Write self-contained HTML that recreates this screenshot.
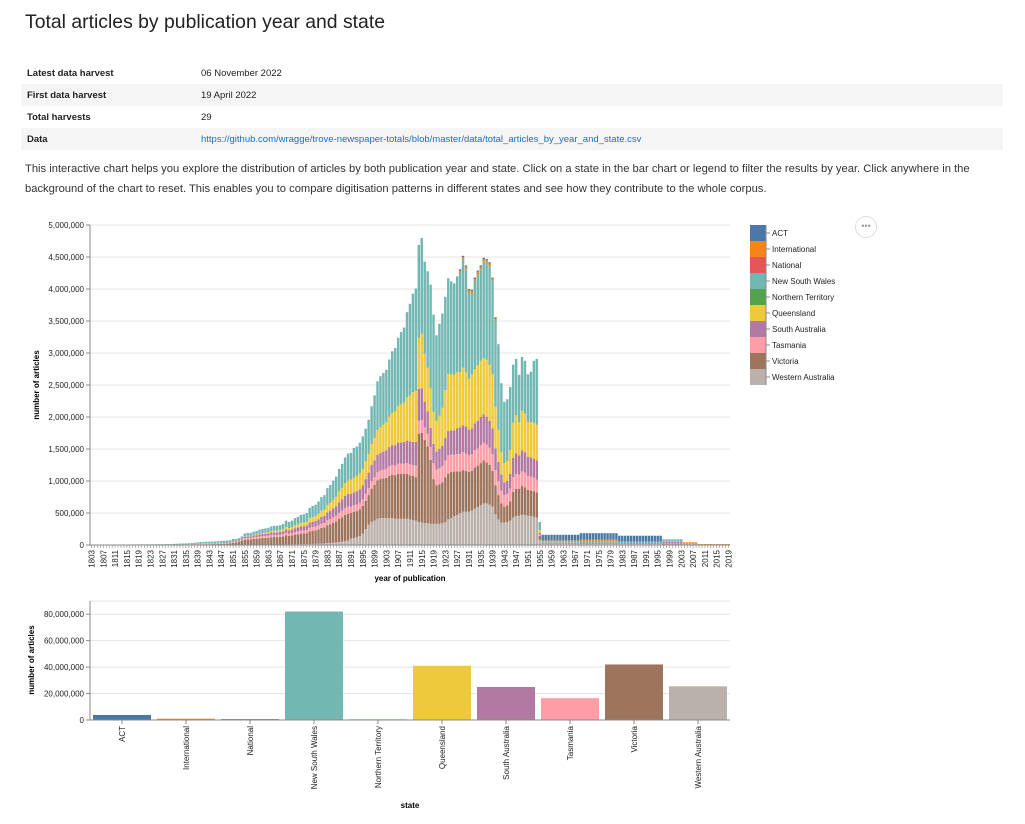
<!DOCTYPE html>
<html><head><meta charset="utf-8"><style>
body{margin:0;width:1025px;height:824px;background:#fff;font-family:"Liberation Sans",sans-serif;color:#222;overflow:hidden;position:relative}
h1{position:absolute;left:25px;top:11px;margin:0;font-weight:normal;font-size:19.4px;color:#222}
table{position:absolute;left:21px;top:62px;width:982px;border-collapse:collapse;font-size:9.5px}
td{height:22px;padding:0 6px}
tr:nth-child(even){background:#f5f5f5}
td.k{font-weight:bold;width:162px}
a{color:#1a6fc4;text-decoration:none}
p{position:absolute;left:25px;top:160px;width:970px;margin:0;font-size:11.2px;line-height:19.5px;color:#333}
svg{position:absolute;left:0;top:0}
svg text{font-family:"Liberation Sans",sans-serif}
</style></head><body>
<h1>Total articles by publication year and state</h1>
<table>
<tr><td class="k">Latest data harvest</td><td>06 November 2022</td></tr>
<tr><td class="k">First data harvest</td><td>19 April 2022</td></tr>
<tr><td class="k">Total harvests</td><td>29</td></tr>
<tr><td class="k">Data</td><td><a>https://github.com/wragge/trove-newspaper-totals/blob/master/data/total_articles_by_year_and_state.csv</a></td></tr>
</table>
<p>This interactive chart helps you explore the distribution of articles by both publication year and state. Click on a state in the bar chart or legend to filter the results by year. Click anywhere in the background of the chart to reset. This enables you to compare digitisation patterns in different states and see how they contribute to the whole corpus.</p>
<svg id="chart" width="1025" height="824"></svg>
<script>
const firstYear = 1803;
const yearCount = 217;
// values in thousands of articles, one per year 1803..2019
const wa = [0,0,0,0,0,0,0,0,0,0, 0,0,0,0,0,0,0,0,0,0, 0,0,0,0,0,0,0,0,
0,0,2,2,2,2,2,2,2,2,2,2,2,2,2,2,3,3,3,3,3,3,3,3,
3,3,3,4,4,5,5,6,6,7,7,7,8,8,9,9,10,11,12,13,13,14,16,17,18,20,22,24,28,30,34,38,45,52,60,70,
100,110,120,140,180,250,320,360,380,410, 420,420,420,420,420,410,410,410,410,410, 400,390,380,360,350,340,340,330,330,330, 330,340,360,400,420,450,470,500,520,520, 520,540,570,590,620,650,650,630,600,480, 400,350,350,360,380,430,450,460,470,470, 460,450,440,430,80,
0,0,0,0,0,0,0,0,0,0, 0,0,0,0,0,0,0,0,0,0, 0,0,0,0,0,0,0,0,0,0, 0,0,0,0,0,0,0,0,0,0, 0,
10,10,10,10,10,10,10, 15,15,15,15,15, 0,0,0,0,0,0,0,0,0,0,0];
const vic = [0,0,0,0,0,0,0,0,0,0, 0,0,0,0,0,0,0,0,0,0, 0,0,0,0,0,0,0,0,
0,0,0,0,0,0,0,2,4,6,8,10,10,12,12,14,15,17,18,20,30,35,45,60,
80,85,84,92,95,100,104,106,108,115,118,116,118,124,140,132,138,150,156,165,168,172,198,205,210,225,245,252,282,296,315,330,362,382,408,420,
400,410,410,420,430,440,460,520,560,600, 610,620,630,660,680,680,700,700,700,700, 690,690,680,1380,1400,1300,1200,1000,700,600, 620,640,700,720,720,700,680,650,650,640, 620,620,640,650,660,670,640,620,560,450, 380,300,250,260,300,400,430,420,450,430, 400,400,400,390,60,
10,10,10,10,10,10,10,10,10,10,10,10,10, 10,10,10,10,10,10,10,10,10,10,10,10,10, 10,10,10,10,10,10,10,10,10,10,10,10,10,10,10,
15,15,15,15,15,15,15, 0,0,0,0,0,0,0,0,0,0,0,0,0,0,0,0];
const tas = [0,0,0,0,0,0,0,0,0,0, 0,0,0,3,3,3,3,3,3,3, 3,3,3,3,3,3,3,3,
6,6,7,7,8,8,9,9,10,10,10,10,10,10,10,11,11,11,11,12,14,14,15,18,
22,23,22,24,25,27,28,29,30,32,32,32,33,35,40,37,39,42,44,46,46,48,54,56,57,61,66,68,76,79,84,88,96,101,107,110,
100,100,100,100,100,110,110,120,120,130, 130,140,140,150,150,150,160,160,160,170, 170,170,180,200,200,200,200,200,250,250, 250,250,260,280,270,260,270,270,280,270, 260,260,270,270,280,280,280,270,260,240, 220,200,180,180,200,230,230,220,230,230, 220,220,210,200,20,
5,5,5,5,5,5,5,5,5,5,5,5,5, 5,5,5,5,5,5,5,5,5,5,5,5,5, 5,5,5,5,5,5,5,5,5,5,5,5,5,5,5,
5,5,5,5,5,5,5, 0,0,0,0,0,0,0,0,0,0,0,0,0,0,0,0];
const sa = [0,0,0,0,0,0,0,0,0,0, 0,0,0,0,0,0,0,0,0,0, 0,0,0,0,0,0,0,0,
0,0,0,0,0,1,2,3,4,5,6,6,6,6,7,7,8,8,9,10,12,12,15,18,
25,26,27,30,31,34,35,37,38,41,42,42,44,47,54,51,54,60,62,66,68,71,82,86,89,96,106,110,124,131,141,149,166,177,191,200,
200,200,210,210,220,230,240,250,260,270, 280,280,290,300,310,320,330,330,340,350, 360,360,370,500,500,400,350,300,300,280, 300,320,350,380,380,380,400,420,420,420, 400,400,420,430,440,440,430,420,400,340, 300,250,200,200,230,300,320,300,330,320, 300,300,300,300,30,
15,15,15,15,15,15,15,15,15,15,15,15,15, 15,15,15,15,15,15,15,15,15,15,15,15,15, 15,15,15,15,15,15,15,15,15,15,15,15,15,15,15,
20,20,20,20,20,20,20, 0,0,0,0,0,0,0,0,0,0,0,0,0,0,0,0];
const qld = [0,0,0,0,0,0,0,0,0,0, 0,0,0,0,0,0,0,0,0,0, 0,0,0,0,0,0,0,0,
0,0,0,0,0,0,0,0,0,0,0,0,0,0,0,0,0,0,0,0,0,0,0,0,
5,6,7,8,10,14,16,18,20,23,25,26,28,31,37,36,39,44,47,52,54,57,68,73,77,85,96,101,117,126,138,149,170,184,202,210,
220,230,240,250,260,280,300,330,360,390, 400,420,440,480,510,530,580,600,620,680, 720,780,800,800,850,750,680,620,500,480, 520,600,750,900,880,870,880,870,900,850, 800,850,850,870,880,880,900,880,850,650, 500,350,300,320,380,550,600,520,620,600, 550,550,560,560,40,
5,5,5,5,5,5,5,5,5,5,5,5,5, 0,0,0,0,0,0,0,0,0,0,0,0,0, 0,0,0,0,0,0,0,0,0,0,0,0,0,0,0,
0,0,0,0,0,0,0, 0,0,0,0,0,0,0,0,0,0,0,0,0,0,0,0];
const nt = [0,0,0,0,0,0,0,0,0,0, 0,0,0,0,0,0,0,0,0,0, 0,0,0,0,0,0,0,0,
0,0,0,0,0,0,0,0,0,0,0,0,0,0,0,0,0,0,0,0,0,0,0,0,
0,0,0,0,0,0,0,0,0,0,0,0,0,0,0,0,0,0,0,0,0,0,0,0,0,0,0,0,8,8,8,8,8,8,8,8,
8,8,8,8,8,8,8,8,8,8, 8,8,8,8,8,8,8,8,8,8, 8,8,8,8,8,8,8,8,8,8, 8,8,8,8,8,8,8,8,8,8, 8,8,8,8,8,8,8,8,8,8, 8,8,8,8,8,8,8,8,8,8, 8,8,8,8,0,
0,0,0,0,0,0,0,0,0,0,0,0,0, 0,0,0,0,0,0,0,0,0,0,0,0,0, 0,0,0,0,0,0,0,0,0,0,0,0,0,0,0,
0,0,0,0,0,0,0, 0,0,0,0,0,0,0,0,0,0,0,0,0,0,0,0];
const nsw = [4,4,5,5,5,4,4,5,5,5, 5,6,6,6,6,6,7,7,7,8, 8,8,9,9,10,10,11,11,
12,13,14,15,16,17,18,20,22,24,24,25,25,25,26,27,27,28,28,30,35,30,28,35,
45,47,47,52,55,60,62,64,68,72,76,77,79,85,100,95,100,113,119,128,131,138,162,173,179,193,215,225,253,268,288,306,341,364,392,410,
410,460,450,470,500,500,520,580,650,750, 790,800,810,880,950,980,1050,1120,1160,1320, 1420,1530,1590,1440,1490,1430,1500,1610,1510,1330, 1430,1460,1450,1480,1440,1420,1490,1540,1680,1600, 1330,1250,1360,1410,1420,1500,1500,1530,1450,1340, 1330,1070,950,950,970,900,870,730,830,820, 730,780,960,1020,130,
30,30,30,30,30,30,30,30,30,30,30,30,30, 25,25,25,25,25,25,25,25,25,25,25,25,25, 25,25,25,25,25,25,25,25,25,25,25,25,25,25,25,
30,30,30,30,30,30,30, 15,15,15,15,15, 5,5,5,5,5,5,5,5,5,5,5];
const national = [0,0,0,0,0,0,0,0,0,0, 0,0,0,0,0,0,0,0,0,0, 0,0,0,0,0,0,0,0,
0,0,0,0,0,0,0,0,0,0,0,0,0,0,0,0,0,0,0,0,0,0,0,0,
0,0,0,0,0,0,0,0,0,0,0,0,0,0,0,0,0,0,0,0,0,0,0,0,0,0,0,0,0,0,0,0,0,0,0,0,
0,0,0,0,0,0,0,0,0,0, 0,0,0,0,0,0,0,0,0,0, 0,0,0,0,0,0,0,0,0,0, 0,0,0,0,0,0,0,0,0,0, 0,0,0,0,0,0,0,0,0,0, 0,0,0,0,0,0,0,0,0,0, 0,0,0,0,0,
0,0,0,0,0,0,0,0,0,0,0,0,0, 0,0,0,0,0,0,0,0,0,0,0,0,0, 0,0,0,0,0,0,0,0,0,0,0,0,0,0,0,
5,5,5,5,5,5,5, 5,5,5,5,5, 0,0,0,0,0,0,0,0,0,0,0];
const intl = [0,0,0,0,0,0,0,0,0,0, 0,0,0,0,0,0,0,0,0,0, 0,0,0,0,0,0,0,0,
0,0,0,0,0,0,0,0,0,0,0,0,0,0,0,0,0,0,0,0,0,0,0,0,
0,0,0,0,0,0,0,0,0,0,0,0,0,0,0,0,0,0,0,0,0,0,0,0,0,0,0,0,0,0,0,0,0,0,0,0,
0,0,0,0,0,0,0,0,0,0, 0,0,0,0,0,0,0,0,0,0, 0,0,0,0,0,0,0,0,0,0, 0,0,0,0,0,0,0,30,40,40, 40,40,40,40,40,40,40,40,30,30, 0,0,0,0,0,0,0,0,0,0, 0,0,0,0,0,
5,5,5,5,5,5,5,5,5,5,5,5,5, 30,30,30,30,30,30,30,30,30,30,30,30,30, 0,0,0,0,0,0,0,0,0,0,0,0,0,0,0,
5,5,5,5,5,5,5, 10,10,10,10,10, 10,10,10,10,10,10,10,10,10,10,10];
const act = [0,0,0,0,0,0,0,0,0,0, 0,0,0,0,0,0,0,0,0,0, 0,0,0,0,0,0,0,0,
0,0,0,0,0,0,0,0,0,0,0,0,0,0,0,0,0,0,0,0,0,0,0,0,
0,0,0,0,0,0,0,0,0,0,0,0,0,0,0,0,0,0,0,0,0,0,0,0,0,0,0,0,0,0,0,0,0,0,0,0,
0,0,0,0,0,0,0,0,0,0, 0,0,0,0,0,0,0,0,0,0, 0,0,0,0,0,0,0,0,0,0, 0,0,0,0,0,0,0,20,20,20, 20,20,20,20,20,20,20,20,20,20, 0,0,0,0,0,0,0,0,0,0, 0,0,0,0,0,
90,90,90,90,90,90,90,90,90,90,90,90,90, 100,100,100,100,100,100,100,100,100,100,100,100,100, 90,90,90,90,90,90,90,90,90,90,90,90,90,90,90,
0,0,0,0,0,0,0, 0,0,0,0,0, 0,0,0,0,0,0,0,0,0,0,0];
const yTicks = [0,500000,1000000,1500000,2000000,2500000,3000000,3500000,4000000,4500000,5000000];
const stateNames = ["ACT","International","National","New South Wales","Northern Territory","Queensland","South Australia","Tasmania","Victoria","Western Australia"];
const stateColors = ["#4c78a8","#f58518","#e45756","#72b7b2","#54a24b","#eeca3b","#b279a2","#ff9da6","#9d755d","#bab0ac"];
const stateTotals = [3800000,1000000,700000,82000000,500000,41000000,25000000,16500000,42000000,25500000];
const y2Ticks = [0,20000000,40000000,60000000,80000000];

const NS="http://www.w3.org/2000/svg";
const svg=document.getElementById('chart');
function el(tag,attrs,parent,text){const e=document.createElementNS(NS,tag);for(const k in attrs)e.setAttribute(k,attrs[k]);if(text!==undefined)e.textContent=text;(parent||svg).appendChild(e);return e;}
const fmt=v=>v.toLocaleString('en-US');

// top chart
const X0=90,X1=730,Y0=545,Y1=225,YMAX=5000000;
const bw=(X1-X0)/yearCount;
const xYear=i=>X0+i*bw;
const yV=v=>Y0-(v/YMAX)*(Y0-Y1);
const g1=el('g',{});  
yTicks.forEach(t=>{const y=yV(t);
 const gl=el('line',{x1:X0,x2:X1,y1:y,y2:y,stroke:'#e4e4e4','stroke-width':1},g1);
  
 el('line',{x1:X0-4,x2:X0,y1:y,y2:y,stroke:'#888'},g1);
 const tx=el('text',{x:X0-6,y:y+3,'text-anchor':'end','font-size':8,fill:'#222'},g1,fmt(t));
  });
const stackOrder=[wa,vic,tas,sa,qld,nt,nsw,national,intl,act];
const stackColors=["#bab0ac","#9d755d","#ff9da6","#b279a2","#eeca3b","#54a24b","#72b7b2","#e45756","#f58518","#4c78a8"];
for(let i=0;i<yearCount;i++){let cum=0;
 stackOrder.forEach((arr,s)=>{const v=arr[i]*1000; if(v<=0)return;
  const r=el('rect',{x:xYear(i)+0.2,width:bw-0.5,y:yV(cum+v),height:yV(cum)-yV(cum+v),fill:stackColors[s]},g1);
   
  cum+=v;});}
el('line',{x1:X0,x2:X0,y1:Y1,y2:Y0,stroke:'#888'},g1);
el('line',{x1:X0,x2:X1,y1:Y0,y2:Y0,stroke:'#888'},g1);
for(let i=0;i<yearCount;i++){const cx=xYear(i)+bw/2;
 el('line',{x1:cx,x2:cx,y1:Y0,y2:Y0+3,stroke:'#888','stroke-width':0.6},g1);
 if(i%4===0){const tx=el('text',{transform:`translate(${cx+3},${Y0+5}) rotate(-90)`,'text-anchor':'end','font-size':8,fill:'#222'},g1,String(firstYear+i));
   }}
let t=el('text',{x:410,y:581,'text-anchor':'middle','font-size':8,'font-weight':'bold'},g1,'year of publication');
 
t=el('text',{transform:'translate(39,385) rotate(-90)','text-anchor':'middle','font-size':8,'font-weight':'bold'},g1,'number of articles');
 

// legend
const lg=el('g',{});  
stateNames.forEach((n,i)=>{const y=225+i*16;
 const sw=el('rect',{x:750,y:y,width:16,height:16,fill:stateColors[i]},lg);
  
 el('line',{x1:766,x2:770,y1:y+8,y2:y+8,stroke:'#888'},lg);
 const tx=el('text',{x:772,y:y+11,'font-size':8,fill:'#222'},lg,n);
  });
el('line',{x1:766,x2:766,y1:225,y2:385,stroke:'#888'},lg);
const mb=el('circle',{cx:866,cy:227,r:10.5,fill:'#fff',stroke:'#ddd'});
 
el('text',{x:866,y:229,'text-anchor':'middle','font-size':9,fill:'#999'},svg,'•••');

// bottom chart
const B0=720,B1=601,BMAX=90000000;
const yB=v=>B0-(v/BMAX)*(B0-B1);
const step=(X1-X0)/stateNames.length;
const g2=el('g',{});  
y2Ticks.forEach(v=>{const y=yB(v);
 el('line',{x1:X0,x2:X1,y1:y,y2:y,stroke:'#e4e4e4'},g2);
 el('line',{x1:X0-4,x2:X0,y1:y,y2:y,stroke:'#888'},g2);
 const tx=el('text',{x:X0-6,y:y+3,'text-anchor':'end','font-size':8,fill:'#222'},g2,fmt(v));
  });
el('line',{x1:X0,x2:X1,y1:B1,y2:B1,stroke:'#e4e4e4'},g2);
stateNames.forEach((n,i)=>{const x=X0+i*step;
 const r=el('rect',{x:x+3,width:step-6,y:yB(stateTotals[i]),height:B0-yB(stateTotals[i]),fill:stateColors[i]},g2);
  
 const cx=x+step/2;
 el('line',{x1:cx,x2:cx,y1:B0,y2:B0+4,stroke:'#888'},g2);
 const tx=el('text',{transform:`translate(${cx+3},${B0+6}) rotate(-90)`,'text-anchor':'end','font-size':8,fill:'#222'},g2,n);
  });
el('line',{x1:X0,x2:X0,y1:B1,y2:B0,stroke:'#888'},g2);
el('line',{x1:X0,x2:X1,y1:B0,y2:B0,stroke:'#888'},g2);
t=el('text',{x:410,y:808,'text-anchor':'middle','font-size':8,'font-weight':'bold'},g2,'state');
 
t=el('text',{transform:'translate(34,660) rotate(-90)','text-anchor':'middle','font-size':8,'font-weight':'bold'},g2,'number of articles');
 
</script>
</body></html>
